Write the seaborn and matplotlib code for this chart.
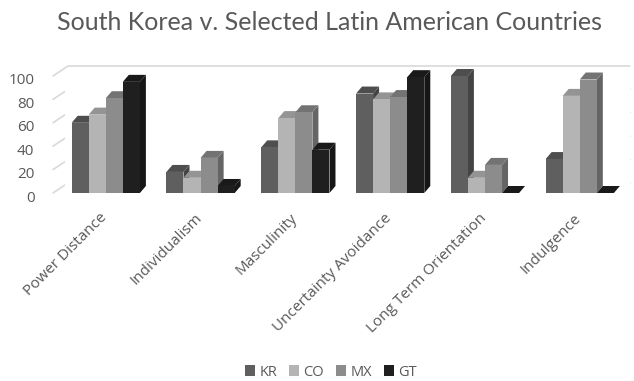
import numpy as np
import pandas as pd
import matplotlib
matplotlib.use("Agg")
import matplotlib.pyplot as plt
import seaborn as sns
from matplotlib.patches import Polygon
from matplotlib.lines import Line2D
from matplotlib.transforms import IdentityTransform, ScaledTranslation
from matplotlib.colors import to_rgb

# Hofstede scores
dimensions = ["Power Distance", "Individualism", "Masculinity",
              "Uncertainty Avoidance", "Long Term Orientation", "Indulgence"]
countries = ["KR", "CO", "MX", "GT"]
kr = [60, 18, 39, 85, 100, 29]
co = [67, 13, 64, 80, 13, 83]
mx = [81, 30, 69, 82, 24, 97]
gt = [95, 6, 37, 99, 0, 0]
colors = ["#5f5f5f", "#b4b4b4", "#8c8c8c", "#1f1f1f"]
yticks = [0, 20, 40, 60, 80, 100]

df = pd.DataFrame({
    "dimension": dimensions * 4,
    "country": sum([[c] * len(dimensions) for c in countries], []),
    "score": kr + co + mx + gt,
})

sns.set_style("white")
plt.rcParams["font.family"] = ["Open Sans", "DejaVu Sans"]
text_col = "#595959"

fig = plt.figure(figsize=(6.34, 3.81), dpi=100)
W, H = 634, 381
ax_l, ax_r, ax_b, ax_t = 65, 630, 193, 76   # pixel box (top-left origin)
ax = fig.add_axes([ax_l / W, (H - ax_b) / H, (ax_r - ax_l) / W, (ax_b - ax_t) / H])

sns.barplot(data=df, x="dimension", y="score", hue="country", order=dimensions,
            hue_order=countries, palette=dict(zip(countries, colors)),
            saturation=1, width=0.72, ax=ax, zorder=3, linewidth=0)
ax.set_xlim(-0.43, 5.53)
ax.set_ylim(0, 100)
ax.set_xlabel("")
ax.set_ylabel("")
for s in ax.spines.values():
    s.set_visible(False)
ax.set_yticks(yticks)
ax.tick_params(axis="y", length=0, pad=22, labelsize=11, labelcolor=text_col)
ax.tick_params(axis="x", length=0, pad=6, labelsize=11, labelcolor=text_col)
plt.setp(ax.get_xticklabels(), rotation=45, ha="right", rotation_mode="anchor")
shift_y = ScaledTranslation(0, -3 / 100, fig.dpi_scale_trans)
for lbl in ax.get_yticklabels():
    lbl.set_transform(lbl.get_transform() + shift_y)
shift_x = ScaledTranslation(-6 / 100, -9 / 100, fig.dpi_scale_trans)
for lbl in ax.get_xticklabels():
    lbl.set_transform(lbl.get_transform() + shift_x)

fig.text(0.519, 1 - 30 / H, "South Korea v. Selected Latin American Countries",
         ha="center", va="baseline", fontsize=18, color=text_col,
         family=["Lato", "DejaVu Sans"])

handles, labels = ax.get_legend_handles_labels()
ax.get_legend().remove()

# 3D look: back-wall gridlines and side/top faces, computed from the axes' pixel mapping
dx, dy = 6, 7
gy = 10
ident = IdentityTransform()
for t in yticks:
    px, py = ax.transData.transform((ax.get_xlim()[0], t))
    x_end = ax.transData.transform((ax.get_xlim()[1], t))[0]
    fig.add_artist(Line2D([px - 12, px + 3, x_end], [py, py + gy, py + gy],
                          transform=ident, color="#d9d9d9", lw=1.2, zorder=0))

for bar in ax.patches:
    if bar.get_width() == 0:
        continue
    (x0, y0), (x1, y1) = ax.transData.transform(
        [(bar.get_x(), 0), (bar.get_x() + bar.get_width(), bar.get_height())])
    c = np.array(to_rgb(bar.get_facecolor()))
    side = Polygon([(x1, y0), (x1 + dx, y0 + dy), (x1 + dx, y1 + dy), (x1, y1)],
                   closed=True, transform=ident, facecolor=c * 0.72, lw=0, zorder=1)
    top = Polygon([(x0, y1), (x1, y1), (x1 + dx, y1 + dy), (x0 + dx, y1 + dy)],
                  closed=True, transform=ident, facecolor=c * 0.82, lw=0, zorder=1)
    ax.add_artist(side)
    ax.add_artist(top)
    side.set_clip_on(False)
    top.set_clip_on(False)

fig.legend(handles, labels, loc="center", bbox_to_anchor=(0.522, 9 / H), ncol=4,
           frameon=False, handlelength=0.7, handleheight=0.7, handletextpad=0.3,
           columnspacing=0.8, fontsize=10.5, labelcolor=text_col)

fig.savefig("out.png", dpi=100)
